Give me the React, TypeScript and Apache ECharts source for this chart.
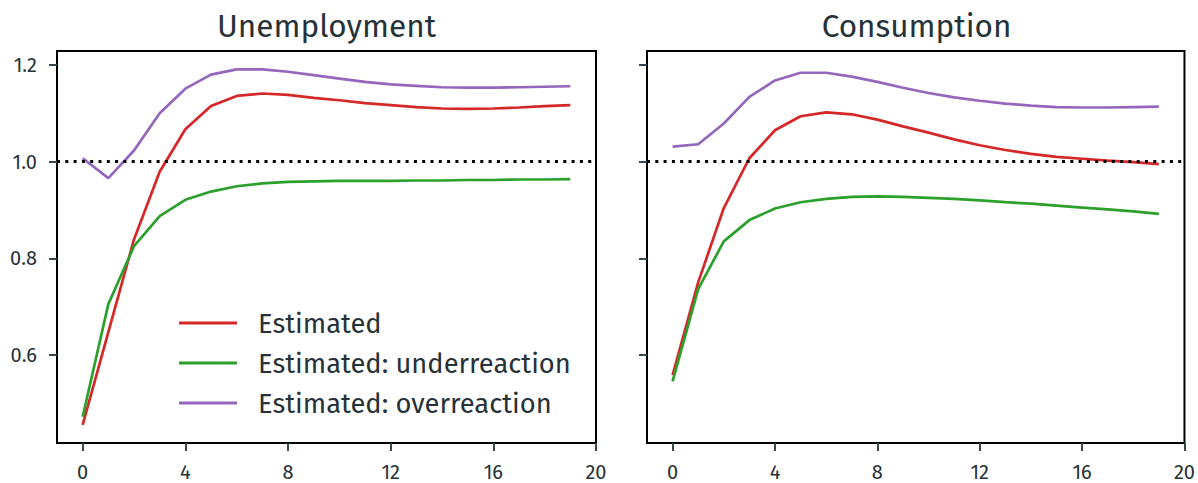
import React, { useEffect, useRef } from "react";
import * as echarts from "echarts";

const steps = [0, 1, 2, 3, 4, 5, 6, 7, 8, 9, 10, 11, 12, 13, 14, 15, 16, 17, 18, 19];

const unempEstimated = [0.455, 0.647, 0.839, 0.979, 1.067, 1.115, 1.136, 1.141, 1.138, 1.132, 1.127, 1.121, 1.117, 1.113, 1.110, 1.109, 1.110, 1.112, 1.115, 1.117];
const unempUnder = [0.472, 0.705, 0.825, 0.887, 0.921, 0.938, 0.949, 0.955, 0.958, 0.959, 0.960, 0.960, 0.960, 0.961, 0.961, 0.962, 0.962, 0.963, 0.963, 0.964];
const unempOver = [1.007, 0.966, 1.023, 1.100, 1.151, 1.180, 1.191, 1.191, 1.186, 1.179, 1.172, 1.165, 1.160, 1.157, 1.154, 1.153, 1.153, 1.154, 1.155, 1.156];

const consEstimated = [0.558, 0.750, 0.904, 1.007, 1.065, 1.094, 1.102, 1.098, 1.087, 1.073, 1.060, 1.046, 1.034, 1.024, 1.016, 1.010, 1.006, 1.002, 0.999, 0.995];
const consUnder = [0.545, 0.736, 0.835, 0.879, 0.903, 0.916, 0.923, 0.927, 0.928, 0.927, 0.925, 0.923, 0.920, 0.916, 0.913, 0.909, 0.905, 0.901, 0.897, 0.892];
const consOver = [1.031, 1.036, 1.079, 1.134, 1.168, 1.184, 1.184, 1.176, 1.165, 1.153, 1.142, 1.133, 1.126, 1.120, 1.116, 1.113, 1.112, 1.112, 1.113, 1.114];

const panelTitles = ["Unemployment", "Consumption"];
const seriesNames = ["Estimated", "Estimated: underreaction", "Estimated: overreaction"];
const seriesColors = ["#d62728", "#2ca02c", "#9467bd"];
const xTicks = [0, 4, 8, 12, 16, 20];
const yTicks = [0.6, 0.8, 1.0, 1.2];
const referenceLevel = 1.0;

const FONT = "'Fira Sans', 'Noto Sans', sans-serif";
const TEXT = "#263238";
const TICK = "#37474f";

export default function App() {
  const ref = useRef<HTMLDivElement>(null);

  useEffect(() => {
    if (!ref.current) return;
    const chart = echarts.init(ref.current, undefined, { renderer: "svg" });

    const grids = [
      { left: 57, top: 51, width: 539, height: 392 },
      { left: 647, top: 51, width: 539, height: 392 },
    ];

    const xAxes = grids.map((_, i) => ({
      type: "value",
      gridIndex: i,
      min: -1,
      max: 20,
      axisLine: { show: false, onZero: false },
      splitLine: { show: false },
      axisTick: { show: true, length: 8, customValues: xTicks, lineStyle: { color: TICK, width: 2 } },
      axisLabel: {
        customValues: xTicks,
        margin: 20,
        color: TEXT,
        fontSize: 20,
        lineHeight: 17,
        fontFamily: FONT,
        showMinLabel: true,
        showMaxLabel: true,
      },
    }));

    const yAxes = grids.map((_, i) => ({
      type: "value",
      gridIndex: i,
      min: 0.4176,
      max: 1.229,
      axisLine: { show: false, onZero: false },
      splitLine: { show: false },
      axisTick: { show: true, length: 8, customValues: yTicks, lineStyle: { color: TICK, width: 2 } },
      axisLabel: {
        show: i === 0,
        customValues: yTicks,
        margin: 20,
        color: TEXT,
        fontSize: 20,
        fontFamily: FONT,
        formatter: (v: number) => v.toFixed(1),
      },
    }));

    const panels = [
      [unempEstimated, unempUnder, unempOver],
      [consEstimated, consUnder, consOver],
    ];

    const series: any[] = [];
    panels.forEach((vals, p) => {
      vals.forEach((arr, k) => {
        series.push({
          type: "line",
          name: seriesNames[k],
          xAxisIndex: p,
          yAxisIndex: p,
          data: steps.map((s, j) => [s, arr[j]]),
          showSymbol: false,
          symbol: "none",
          lineStyle: { color: seriesColors[k], width: 2.7 },
          itemStyle: { color: seriesColors[k] },
          z: 2 + k,
        });
      });
      series.push({
        type: "line",
        name: "ref" + p,
        xAxisIndex: p,
        yAxisIndex: p,
        data: [],
        symbol: "none",
        z: 10,
        markLine: {
          silent: true,
          symbol: "none",
          label: { show: false },
          lineStyle: { color: "#000", width: 3, type: [3, 5.3] },
          data: [{ yAxis: referenceLevel }],
        },
      });
    });

    chart.setOption({
      animation: false,
      backgroundColor: "#fff",
      grid: grids.map((g) => ({ ...g, show: true, borderColor: "#000", borderWidth: 2, backgroundColor: "transparent" })),
      xAxis: xAxes,
      yAxis: yAxes,
      legend: {
        data: seriesNames,
        orient: "vertical",
        left: 179,
        top: 308,
        padding: 0,
        icon: "rect",
        itemWidth: 58,
        itemHeight: 3,
        itemGap: 10,
        textStyle: {
          color: TEXT,
          fontSize: 27.3,
          fontFamily: FONT,
          lineHeight: 30,
          padding: [0, 0, 0, 16],
        },
        selectedMode: false,
      },
      graphic: panelTitles.map((t, i) => ({
        type: "text",
        x: grids[i].left + grids[i].width / 2,
        y: 26,
        style: {
          text: t,
          fill: TEXT,
          fontSize: 31.5,
          fontFamily: FONT,
          textAlign: "center",
          textVerticalAlign: "middle",
        },
      })),
      series,
    });

    return () => chart.dispose();
  }, []);

  return (
    <div
      ref={ref}
      style={{ position: "fixed", left: 0, top: 0, width: 1198, height: 483, background: "#fff" }}
    />
  );
}
